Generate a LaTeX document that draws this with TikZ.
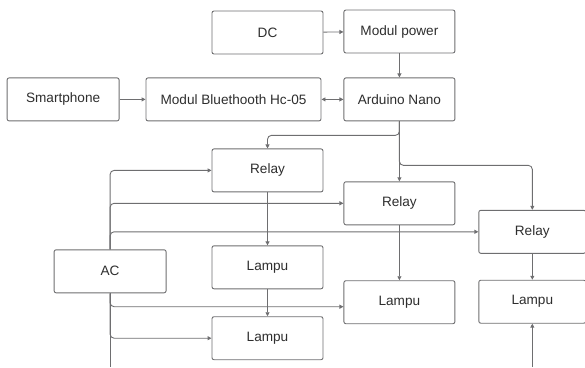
\documentclass[tikz,border=0pt]{standalone}
\usepackage{fontspec}
\setmainfont{Liberation Sans}
\usepackage{xcolor}
\usepackage{tikz}
\usetikzlibrary{arrows.meta,positioning}

\definecolor{linegray}{HTML}{6E6E70}
\definecolor{textgray}{HTML}{2E2E2E}

\begin{document}
\begin{tikzpicture}[
    box/.style={draw=linegray, line width=0.9pt, rounded corners=2pt, fill=white,
      minimum width=111pt, minimum height=43pt, align=center, inner sep=0pt,
      text=textgray, font=\fontsize{13.6}{16}\selectfont},
    arr/.style={-{Triangle[length=4pt,width=4pt]}, draw=linegray, line width=0.9pt, rounded corners=4pt},
    both/.style={{Triangle[length=4pt,width=4pt]}-{Triangle[length=4pt,width=4pt]}, draw=linegray, line width=0.9pt},
    wire/.style={draw=linegray, line width=0.9pt}
  ]
  \useasboundingbox (0,0) rectangle (585pt,-367pt);

  % Power and control
  \node[box] (dc) at (267.5pt,-32.5pt) {DC};
  \node[box, right=20pt of dc, yshift=1pt] (power) {Modul power};
  \node[box, below=24pt of power] (nano) {Arduino Nano};
  \node[box, minimum width=175pt, left=22pt of nano] (bt) {Modul Bluethooth Hc-05};
  \node[box, minimum width=112pt, left=26pt of bt] (phone) {Smartphone};

  % Relays
  \node[box, below=94pt of dc] (relayA) {Relay};
  \node[box, below=60pt of nano] (relayB) {Relay};
  \node[box, minimum width=107pt, right=23pt of relayB, yshift=-28.5pt] (relayC) {Relay};

  % Lamps
  \node[box, below=53pt of relayA] (lampuA) {Lampu};
  \node[box, below=27pt of lampuA] (lampuD) {Lampu};
  \node[box, below=55pt of relayB] (lampuB) {Lampu};
  \node[box, minimum width=107pt, below=26pt of relayC] (lampuC) {Lampu};

  % AC source
  \node[box, minimum width=112pt, left=45pt of lampuA, yshift=-4pt] (ac) {AC};

  \coordinate (bottom) at (0,-367pt);
  \coordinate (acend) at (ac |- bottom);
  \coordinate (lampin) at (lampuC |- bottom);

  % Arrows
  \draw[arr] (dc) -- (power);
  \draw[arr] (power) -- (nano);
  \draw[arr] (phone) -- (bt);
  \draw[both] (bt) -- (nano);
  \draw[arr] (nano) -- (relayB);
  \draw[arr] (nano.south) -- ++(0,-14pt) -| (relayA.north);
  \draw[arr] (nano.south) -- ++(0,-44pt) -| (relayC.north);
  \draw[arr] (relayA) -- (lampuA);
  \draw[arr] (lampuA) -- (lampuD);
  \draw[arr] (relayB) -- (lampuB);
  \draw[arr] (relayC) -- (lampuC);
  \draw[arr] (lampin) -- (lampuC);

  % AC lines
  \draw[arr] (ac.north) |- (relayA.west);
  \draw[arr] (ac.north) |- (relayB.west);
  \draw[arr] (ac.north) |- (relayC.west);
  \draw[arr] (ac.south) |- ([yshift=-4.5pt]lampuB.west);
  \draw[arr] (ac.south) |- (lampuD.west);
  \draw[wire] (ac.south) -- (acend);
\end{tikzpicture}
\end{document}
